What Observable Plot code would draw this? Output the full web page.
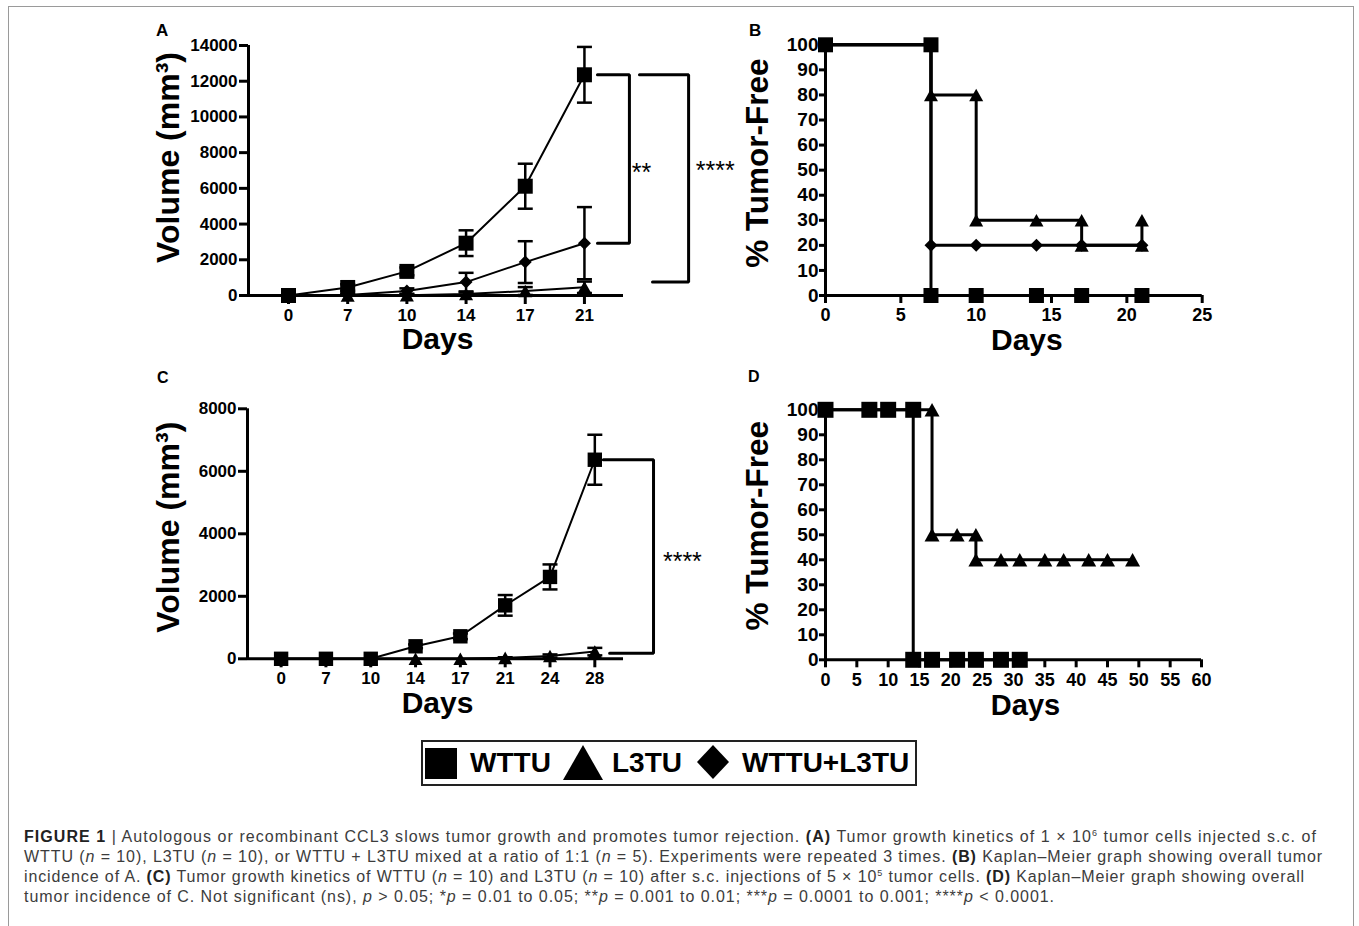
<!DOCTYPE html>
<html><head><meta charset="utf-8">
<script src="https://cdn.jsdelivr.net/npm/d3@7"></script>
<script src="https://cdn.jsdelivr.net/npm/@observablehq/plot@0.6"></script>
<style>
body{margin:0;background:#fff;}
#fig{position:relative;width:1359px;height:926px;overflow:hidden;font-family:"Liberation Sans",Arial,sans-serif;background:#fff;}
#frame{position:absolute;left:8px;top:6px;width:1344px;height:940px;border:1px solid #9a9a9a;}
.panel{position:absolute;}
.lab{position:absolute;font-weight:bold;color:#000;line-height:1;}
#legend{position:absolute;left:421px;top:740px;width:492px;height:42px;border:2px solid #222;background:#fff;}
.lg{position:absolute;font-weight:bold;font-size:28px;line-height:28px;color:#000;white-space:nowrap;}
.cl{position:absolute;left:24px;white-space:nowrap;font-size:16px;line-height:20px;color:#3c3c3c;font-family:"Liberation Sans",Arial,sans-serif;}
.cl sup{font-size:9px;vertical-align:6px;line-height:0;}
</style></head>
<body>
<div id="fig">
  <div id="frame"></div>
  <div id="pA" class="panel" style="left:140px;top:20px;"></div>
  <div id="pB" class="panel" style="left:740px;top:20px;"></div>
  <div id="pC" class="panel" style="left:140px;top:380px;"></div>
  <div id="pD" class="panel" style="left:740px;top:380px;"></div>
  <div class="lab" style="left:156px;top:22px;font-size:17px;">A</div>
  <div class="lab" style="left:749px;top:22px;font-size:17px;">B</div>
  <div class="lab" style="left:157px;top:370px;font-size:16px;">C</div>
  <div class="lab" style="left:748px;top:369px;font-size:16px;">D</div>
  <div id="legend"></div>
  <div id="caption"></div>
</div>
<script>
// ---------------- DATA ----------------
// Panel A: tumor volume (mm^3), mean and error
const daysA = [0, 7, 10, 14, 17, 21];
const volA_WTTU = [0, 450, 1350, 2930, 6120, 12360];
const errA_WTTU = [0, 180, 220, 720, 1260, 1560];
const volA_L3TU = [0, 0, 20, 80, 250, 460];
const errA_L3TU = [0, 0, 40, 90, 220, 320];
const volA_MIX = [0, 30, 250, 750, 1870, 2930];
const errA_MIX = [0, 60, 150, 520, 1170, 2020];
const yTicksA = [0, 2000, 4000, 6000, 8000, 10000, 12000, 14000];

// Panel C
const daysC = [0, 7, 10, 14, 17, 21, 24, 28];
const volC_WTTU = [0, 0, 0, 400, 720, 1710, 2620, 6370];
const errC_WTTU = [0, 0, 0, 60, 90, 330, 400, 800];
const volC_L3TU = [0, 0, 0, 0, 0, 30, 90, 230];
const errC_L3TU = [0, 0, 0, 0, 0, 20, 50, 120];
const yTicksC = [0, 2000, 4000, 6000, 8000];

// Panel B: Kaplan-Meier (% tumor-free)
const kmB_days_WTTU = [0, 7, 7, 10, 14, 17, 21];
const kmB_pct_WTTU  = [100, 100, 0, 0, 0, 0, 0];
const kmB_days_L3TU = [0, 7, 7, 10, 10, 14, 17, 17, 21, 21];
const kmB_pct_L3TU  = [100, 100, 80, 80, 30, 30, 30, 20, 20, 30];
const kmB_days_MIX  = [0, 7, 7, 10, 14, 17, 21];
const kmB_pct_MIX   = [100, 100, 20, 20, 20, 20, 20];
const xTicksB = [0, 5, 10, 15, 20, 25];

// Panel D
const kmD_days_WTTU = [0, 7, 10, 14, 14, 17, 21, 24, 28, 31];
const kmD_pct_WTTU  = [100, 100, 100, 100, 0, 0, 0, 0, 0, 0];
const kmD_days_L3TU = [0, 7, 10, 14, 17, 17, 21, 24, 24, 28, 31, 35, 38, 42, 45, 49];
const kmD_pct_L3TU  = [100, 100, 100, 100, 100, 50, 50, 50, 40, 40, 40, 40, 40, 40, 40, 40];
const xTicksD = [0, 5, 10, 15, 20, 25, 30, 35, 40, 45, 50, 55, 60];
const yTicksKM = [0, 10, 20, 30, 40, 50, 60, 70, 80, 90, 100];

const seriesNames = ["WTTU", "L3TU", "WTTU+L3TU"];

// ---------------- SYMBOLS ----------------
const rad = size => Math.sqrt(size / Math.PI);
const SQ = {draw(c, size){ const s = rad(size); c.rect(-s, -s, 2*s, 2*s); }};
const TRI = {draw(c, size){ const s = rad(size), h = 0.9*s; c.moveTo(0, -h); c.lineTo(s, h); c.lineTo(-s, h); c.closePath(); }};
const DIA = {draw(c, size){ const s = rad(size); c.moveTo(0, -s); c.lineTo(s, 0); c.lineTo(0, s); c.lineTo(-s, 0); c.closePath(); }};
const CAP = {draw(c, size){ const s = rad(size); c.moveTo(-s, 0); c.lineTo(s, 0); }};

const svgStyle = "font-family:'Liberation Sans',Arial,sans-serif;font-weight:bold;color:#000;background:none;overflow:visible;";

function titles(yTitle, o) {
  return [
    Plot.text([yTitle], {text: d => d, frameAnchor: "left", textAnchor: "middle", lineAnchor: "middle", rotate: -90, dx: o.ytDx, dy: o.ytDy, fontSize: o.ytSize, fontWeight: "bold"}),
    Plot.text(["Days"], {text: d => d, frameAnchor: "bottom", textAnchor: "middle", lineAnchor: "middle", dx: o.xtDx, dy: o.xtDy, fontSize: o.xtSize || 30, fontWeight: "bold"})
  ];
}

// ---------------- GROWTH PANELS ----------------
function growth(o) {
  const idx = o.days.map((d, i) => i);
  const marks = [
    Plot.ruleY([0], {strokeWidth: 3}),
    Plot.ruleX([o.xDomain[0]], {strokeWidth: 3}),
    Plot.axisY({ticks: o.yTicks, tickFormat: d => String(d), tickSize: 9, tickPadding: 2, strokeWidth: 3, fontSize: 17, fontWeight: "bold", label: null}),
    Plot.axisX({ticks: idx, tickFormat: i => o.days[i], tickSize: 9, tickPadding: 4, strokeWidth: 3, fontSize: 17, fontWeight: "bold", label: null}),
    ...titles(o.yTitle, o)
  ];
  for (const s of o.series) {
    const rows = s.values.map((v, i) => ({i, v, e: s.errors[i], lo: Math.max(0, v - s.errors[i]), hi: v + s.errors[i]}));
    const eb = rows.filter(d => d.e > 0);
    marks.push(
      Plot.ruleX(eb, {x: "i", y1: "lo", y2: "hi", strokeWidth: 2.5}),
      Plot.dot(eb, {x: "i", y: "hi", symbol: CAP, r: o.capR, fill: "none", stroke: "black", strokeWidth: 2.5}),
      Plot.dot(eb.filter(d => d.v - d.e > 0), {x: "i", y: "lo", symbol: CAP, r: o.capR, fill: "none", stroke: "black", strokeWidth: 2.5}),
      Plot.line(rows, {x: "i", y: "v", strokeWidth: 2}),
      Plot.dot(rows, {x: "i", y: "v", symbol: s.symbol, r: s.r, fill: "black", stroke: "none"})
    );
  }
  for (const b of o.brackets) {
    const pts = [{x: b.x1, y: b.top}, {x: b.xv, y: b.top}, {x: b.xv, y: b.bottom}, {x: b.x2, y: b.bottom}];
    marks.push(
      Plot.line(pts, {x: "x", y: "y", strokeWidth: 3, strokeLinejoin: "miter"}),
      Plot.text([b], {x: d => d.xt, y: d => (d.top + d.bottom) / 2, text: d => d.label, textAnchor: "start", lineAnchor: "middle", fontSize: 25, fontWeight: "normal", dy: b.dy})
    );
  }
  return Plot.plot({
    width: o.width, height: o.height,
    marginLeft: o.ml, marginRight: o.mr, marginTop: o.mt, marginBottom: o.mb,
    x: {type: "linear", domain: o.xDomain},
    y: {type: "linear", domain: [0, o.yTicks[o.yTicks.length - 1]]},
    style: svgStyle,
    marks
  });
}

const nA = daysA.length - 1;
document.getElementById("pA").append(growth({
  days: daysA, yTicks: yTicksA, xDomain: [-0.676, 5.66],
  width: 610, height: 340, ml: 108, mr: 127, mt: 25, mb: 65,
  yTitle: "Volume (mm³)", ytSize: 32, ytDx: -80, ytDy: -13, xtDx: 1.5, xtDy: 44,
  capR: 7.5,
  series: [
    {values: volA_L3TU, errors: errA_L3TU, symbol: TRI, r: 7},
    {values: volA_MIX, errors: errA_MIX, symbol: DIA, r: 6.5},
    {values: volA_WTTU, errors: errA_WTTU, symbol: SQ, r: 7.5}
  ],
  brackets: [
    {x1: nA + 0.22, xv: nA + 0.76, x2: nA + 0.22, top: volA_WTTU[nA], bottom: volA_MIX[nA], xt: nA + 0.8, label: "**", dy: 14},
    {x1: nA + 0.93, xv: nA + 1.76, x2: nA + 1.15, top: volA_WTTU[nA], bottom: 750, xt: nA + 1.88, label: "****", dy: -7}
  ]
}));

const nC = daysC.length - 1;
document.getElementById("pC").append(growth({
  days: daysC, yTicks: yTicksC, xDomain: [-0.75, 7.64],
  width: 610, height: 340, ml: 107, mr: 127, mt: 28.3, mb: 61.7,
  yTitle: "Volume (mm³)", ytSize: 32, ytDx: -79, ytDy: -6.6, xtDx: 2, xtDy: 45,
  capR: 7.5,
  series: [
    {values: volC_L3TU, errors: errC_L3TU, symbol: TRI, r: 7},
    {values: volC_WTTU, errors: errC_WTTU, symbol: SQ, r: 7.2}
  ],
  brackets: [
    {x1: nC + 0.19, xv: nC + 1.31, x2: nC + 0.33, top: volC_WTTU[nC], bottom: 175, xt: nC + 1.52, label: "****", dy: 5}
  ]
}));

// ---------------- KAPLAN-MEIER PANELS ----------------
function km(o) {
  const marks = [
    Plot.ruleY([0], {strokeWidth: 3}),
    Plot.ruleX([0], {strokeWidth: 3}),
    Plot.axisY({ticks: yTicksKM, tickFormat: d => String(d), tickSize: 6, tickPadding: 1, strokeWidth: 3, fontSize: 19, fontWeight: "bold", label: null}),
    Plot.axisX({ticks: o.xTicks, tickFormat: d => String(d), tickSize: 8, tickPadding: 5, strokeWidth: 3, fontSize: 18, fontWeight: "bold", label: null}),
    ...titles("% Tumor-Free", o)
  ];
  for (const c of o.curves) {
    const pts = c.days.map((d, i) => ({d, p: c.pct[i]}));
    marks.push(
      Plot.line(pts, {x: "d", y: "p", strokeWidth: 3, strokeLinejoin: "miter"}),
      Plot.dot(pts, {x: "d", y: "p", symbol: c.symbol, r: c.r, fill: "black", stroke: "none"})
    );
  }
  return Plot.plot({
    width: o.width, height: o.height,
    marginLeft: o.ml, marginRight: o.mr, marginTop: o.mt, marginBottom: o.mb,
    x: {type: "linear", domain: [0, o.xTicks[o.xTicks.length - 1]]},
    y: {type: "linear", domain: [0, 100]},
    style: svgStyle,
    marks
  });
}

document.getElementById("pB").append(km({
  xTicks: xTicksB, width: 480, height: 340, ml: 85, mr: 18.3, mt: 24.3, mb: 65,
  ytSize: 31.5, ytDx: -68, ytDy: -7, xtDx: 13, xtDy: 45,
  curves: [
    {days: kmB_days_L3TU, pct: kmB_pct_L3TU, symbol: TRI, r: 7},
    {days: kmB_days_MIX, pct: kmB_pct_MIX, symbol: DIA, r: 6.5},
    {days: kmB_days_WTTU, pct: kmB_pct_WTTU, symbol: SQ, r: 7.5}
  ]
}));

document.getElementById("pD").append(km({
  xTicks: xTicksD, width: 480, height: 340, ml: 85, mr: 19, mt: 29.3, mb: 60.7,
  ytSize: 31.5, ytDx: -68, ytDy: -9, xtDx: 12, xtDy: 46, xtSize: 29,
  curves: [
    {days: kmD_days_L3TU, pct: kmD_pct_L3TU, symbol: TRI, r: 7.5},
    {days: kmD_days_WTTU, pct: kmD_pct_WTTU, symbol: SQ, r: 8}
  ]
}));

// ---------------- LEGEND ----------------
(function(){
  const lg = document.getElementById("legend");
  const ox = 423, oy = 742; // inner origin of legend box
  const items = [
    {svg: '<svg width="32" height="32"><rect x="0" y="0" width="32" height="31" fill="#000"/></svg>', x: 425, y: 748},
    {text: seriesNames[0], x: 470, y: 749},
    {svg: '<svg width="40" height="36"><polygon points="20,0 40,35 0,35" fill="#000"/></svg>', x: 563, y: 745},
    {text: seriesNames[1], x: 612, y: 749},
    {svg: '<svg width="34" height="35"><polygon points="17,0 33,17 17,34 1,17" fill="#000"/></svg>', x: 696, y: 745},
    {text: seriesNames[2], x: 742, y: 749}
  ];
  for (const it of items) {
    const d = document.createElement("div");
    d.className = "lg";
    d.style.left = (it.x - ox) + "px";
    d.style.top = (it.y - oy) + "px";
    if (it.svg) d.innerHTML = it.svg; else d.textContent = it.text;
    lg.append(d);
  }
})();

// ---------------- CAPTION ----------------
const captionLines = [
  '<b style="color:#222">FIGURE 1</b> | Autologous or recombinant CCL3 slows tumor growth and promotes tumor rejection. <b style="color:#222">(A)</b> Tumor growth kinetics of 1 × 10<sup>6</sup> tumor cells injected s.c. of',
  'WTTU (<i>n</i> = 10), L3TU (<i>n</i> = 10), or WTTU + L3TU mixed at a ratio of 1:1 (<i>n</i> = 5). Experiments were repeated 3 times. <b style="color:#222">(B)</b> Kaplan–Meier graph showing overall tumor',
  'incidence of A. <b style="color:#222">(C)</b> Tumor growth kinetics of WTTU (<i>n</i> = 10) and L3TU (<i>n</i> = 10) after s.c. injections of 5 × 10<sup>5</sup> tumor cells. <b style="color:#222">(D)</b> Kaplan–Meier graph showing overall',
  'tumor incidence of C. Not significant (ns), <i>p</i> &gt; 0.05; *<i>p</i> = 0.01 to 0.05; **<i>p</i> = 0.001 to 0.01; ***<i>p</i> = 0.0001 to 0.001; ****<i>p</i> &lt; 0.0001.'
];
const captionRight = [1317, 1323, 1305, 1055];
const cap = document.getElementById("caption");
captionLines.forEach((html, k) => {
  const d = document.createElement("div");
  d.className = "cl";
  d.style.top = (826.5 + 20 * k) + "px";
  d.innerHTML = html;
  cap.append(d);
  const nat = d.getBoundingClientRect().width;
  const n = d.textContent.length;
  d.style.letterSpacing = ((captionRight[k] - 24 - nat) / n) + "px";
});
</script>
</body></html>
